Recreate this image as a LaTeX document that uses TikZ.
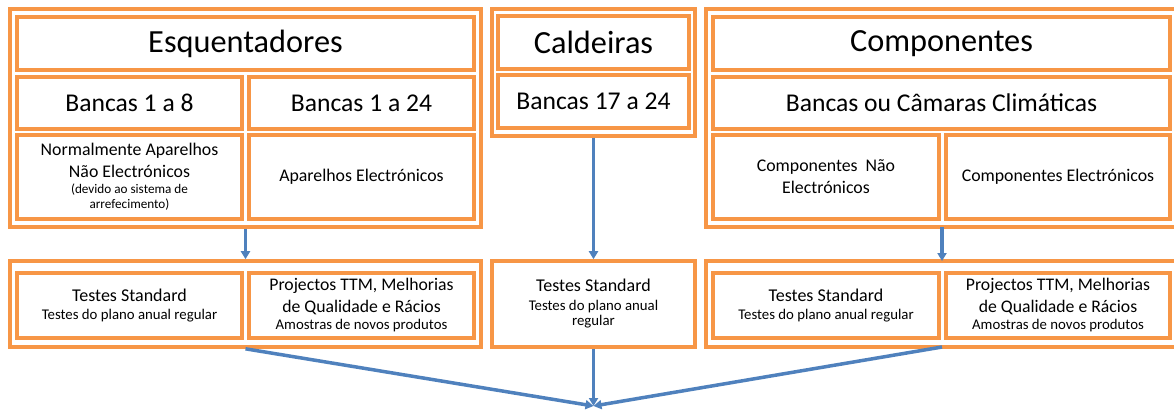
\documentclass[tikz,border=0pt]{standalone}
\usepackage{fontspec}
\setmainfont{Carlito}
\usetikzlibrary{arrows.meta}
\definecolor{boxorange}{HTML}{F79646}
\definecolor{arrowblue}{HTML}{4F81BD}
\newcommand\mybox[7]{\node[#1,minimum width={#5-#3},minimum height={#6-#4}] (#2) at ({(#3+#5)/2},{(#4+#6)/2}) {#7};}
\newcommand\fA{\fontsize{17.8}{22}\selectfont}
\newcommand\fB{\fontsize{13.2}{15}\selectfont}
\newcommand\fC{\fontsize{18}{22}\selectfont}
\newcommand\fD{\fontsize{14.8}{17}\selectfont}
\newcommand\fE{\fontsize{17.7}{22}\selectfont}
\begin{document}
\begin{tikzpicture}[x=1pt,y=-1pt,
  obox/.style={draw=boxorange,line width=3.6pt,inner sep=0pt,align=center},
  ibox/.style={draw=boxorange,line width=3.2pt,inner sep=0pt,align=center},
  flow/.style={draw=arrowblue,line width=3.5pt,-{Triangle[length=8pt,width=9pt]}},
  big/.style={font=\fontsize{32.3}{38}\selectfont},
  mid/.style={font=\fontsize{25.6}{30}\selectfont},
  txt/.style={font=\fA}]
\useasboundingbox (0,0) rectangle (1174,410);
\fill[white] (0,0) rectangle (1174,410);
% --- Esquentadores group
\mybox{obox}{esq}{10}{9}{481}{227}{}
\mybox{ibox,big}{esqT}{17}{17}{474}{70}{Esquentadores}
\mybox{ibox,mid}{b18}{17}{77}{242}{129}{Bancas 1 a 8}
\mybox{ibox,mid}{b124}{249}{77}{474}{129}{Bancas 1 a 24}
\mybox{ibox,txt}{nel}{17}{135}{242}{219}{Normalmente Aparelhos\\Não Electrónicos\\[-6pt]\fB (devido ao sistema de\\[-7pt]\fB arrefecimento)}
\mybox{ibox,txt}{el}{249}{135}{474}{219}{Aparelhos Electrónicos}
% --- Caldeiras group
\mybox{obox}{cal}{492}{9}{695}{136}{}
\mybox{ibox,big}{calT}{498}{16}{689}{69}{Caldeiras}
\mybox{ibox,mid}{b1724}{498}{75}{689}{128}{Bancas 17 a 24}
% --- Componentes group
\mybox{obox}{comp}{706}{9}{1180}{227}{}
\mybox{ibox,big}{compT}{713}{17}{1170}{70}{Componentes}
\mybox{ibox,mid}{bcc}{713}{77}{1170}{129}{Bancas ou Câmaras Climáticas}
\mybox{ibox,txt}{cnel}{713}{135}{939}{219}{Componentes\ \ Não\\Electrónicos}
\mybox{ibox,txt}{cel}{946}{135}{1170}{219}{Componentes Electrónicos}
% --- bottom row
\mybox{obox}{tl}{10}{261}{481}{347}{}
\mybox{ibox,font=\fC}{tls}{17}{273}{242}{338}{Testes Standard\\[-4pt]\fD Testes do plano anual regular}
\mybox{ibox,font=\fE}{tlp}{249}{273}{474}{338}{Projectos TTM, Melhorias\\de Qualidade e Rácios\\[-5pt]\fD Amostras de novos produtos}
\mybox{obox,font=\fC}{tm}{492}{261}{695}{347}{Testes Standard\\[-3pt]\fD Testes do plano anual\\[-7pt]\fD regular}
\mybox{obox}{tr}{706}{261}{1180}{347}{}
\mybox{ibox,font=\fC}{trs}{713}{273}{939}{338}{Testes Standard\\[-4pt]\fD Testes do plano anual regular}
\mybox{ibox,font=\fE}{trp}{946}{273}{1170}{338}{Projectos TTM, Melhorias\\de Qualidade e Rácios\\[-5pt]\fD Amostras de novos produtos}
% --- arrows
\coordinate (goal) at (593.5,406);
\coordinate (compout) at (942,227);
\coordinate (compin) at (942,261);
\coordinate (trout) at (942,347);
\draw[flow] (esq.south) -- (tl.north);
\draw[flow] (cal.south) -- (tm.north);
\draw[flow] (compout) -- (compin);
\draw[flow] (tm.south) -- (goal);
\draw[flow] (tl.south) -- (goal);
\draw[flow] (trout) -- (goal);
\end{tikzpicture}
\end{document}
